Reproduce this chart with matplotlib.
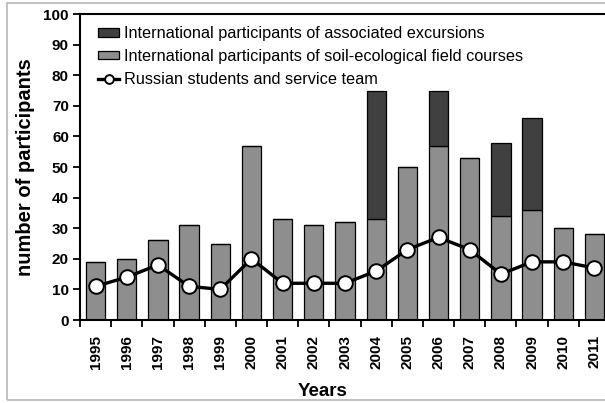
import numpy as np
import matplotlib
matplotlib.use('Agg')
import matplotlib.pyplot as plt
from matplotlib.patches import Rectangle

plt.rcParams['font.family'] = ['Liberation Sans', 'DejaVu Sans']

years = ['1995', '1996', '1997', '1998', '1999', '2000', '2001', '2002', '2003',
         '2004', '2005', '2006', '2007', '2008', '2009', '2010', '2011']
# International participants of soil-ecological field courses
courses = [19, 20, 26, 31, 25, 57, 33, 31, 32, 33, 50, 57, 53, 34, 36, 30, 28]
# International participants of associated excursions (stacked on top)
excursions = [0, 0, 0, 0, 0, 0, 0, 0, 0, 42, 0, 18, 0, 24, 30, 0, 0]
# Russian students and service team
russian = [11, 14, 18, 11, 10, 20, 12, 12, 12, 16, 23, 27, 23, 15, 19, 19, 17]

x = np.arange(len(years))

fig = plt.figure(figsize=(6.05, 4.03), dpi=100)
# light grey frame round the whole picture
fig.patches.append(Rectangle((7 / 605, 3 / 403), 1.0, 397 / 403, transform=fig.transFigure,
                             fill=False, edgecolor='#b8b8b8', linewidth=1.2))

ax = fig.add_axes([80 / 605, 1 - 320 / 403, 530 / 605, 306 / 403])

soil = ax.bar(x, courses, width=0.62, color='#8e8e8e', edgecolor='black', linewidth=0.9,
              label='International participants of soil-ecological field courses', zorder=2)
exc = ax.bar(x, excursions, width=0.62, bottom=courses, color='#404040', edgecolor='black',
             linewidth=0.9, label='International participants of associated excursions', zorder=2)
rus, = ax.plot(x, russian, '-o', color='black', linewidth=2.4, markersize=10.5,
               markerfacecolor='white', markeredgecolor='black', markeredgewidth=1.4,
               label='Russian students and service team', zorder=3)

ax.set_xlim(-0.5, len(years) - 0.5)
ax.set_ylim(0, 100)
ax.set_yticks(np.arange(0, 101, 10))
ax.set_yticklabels([str(v) for v in range(0, 101, 10)], fontweight='bold', fontsize=11)
ax.set_xticks(x)
ax.set_xticklabels(years, rotation=90, fontweight='bold', fontsize=11)
ax.set_xticks(np.arange(-0.5, len(years), 1), minor=True)
ax.tick_params(axis='x', which='major', length=0, pad=11)
ax.tick_params(axis='x', which='minor', length=5, width=1.3, direction='out')
ax.tick_params(axis='y', length=5, width=1.3, direction='out', pad=3)

for side in ['left', 'bottom', 'top']:
    ax.spines[side].set_linewidth(1.5)
ax.spines['right'].set_visible(False)

ax.set_ylabel('number of participants', fontsize=14.5, fontweight='bold')
ax.yaxis.set_label_coords(-0.085, 0.5)
ax.set_xlabel('Years', fontsize=13.5, fontweight='bold', va='top')
ax.xaxis.set_label_coords(0.457, -0.205)

leg = ax.legend([exc, soil, rus], [exc.get_label(), soil.get_label(), rus.get_label()],
                loc='upper left', frameon=False, fontsize=11.7, handlelength=1.3,
                handleheight=0.45, handletextpad=0.3, labelspacing=0.48,
                borderaxespad=0.0, borderpad=0.0, markerscale=0.6,
                bbox_to_anchor=(18 / 530, 1 - 12 / 306))

fig.savefig('out.png', dpi=100)
